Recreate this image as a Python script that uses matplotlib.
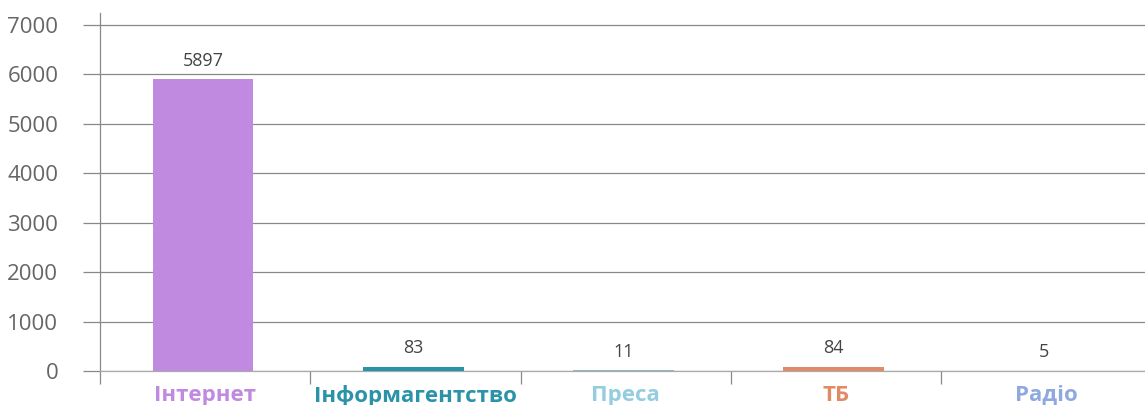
import matplotlib
matplotlib.use("Agg")
import matplotlib.pyplot as plt

categories = ["Інтернет", "Інформагентство", "Преса", "ТБ", "Радіо"]
values = [5897, 83, 11, 84, 5]
bar_colors = ["#c08ae0", "#2a93a8", "#8fb5c4", "#e08a66", "#8fa9e0"]
label_colors = ["#c08ae0", "#2a93a8", "#94cde0", "#e08a66", "#8fa9e0"]
yticks = [0, 1000, 2000, 3000, 4000, 5000, 6000, 7000]

plt.rcParams['font.family'] = ['Open Sans', 'DejaVu Sans']

fig = plt.figure(figsize=(11.45, 4.05), dpi=100)
ax = fig.add_axes([100/1145, 1 - 371/405, 1045/1145, (371 - 13)/405])

x = list(range(len(categories)))
bars = ax.bar([xi - 0.01 for xi in x], values, width=0.48, color=bar_colors, zorder=3)

ax.set_xlim(-0.5, 4.47)
ax.set_ylim(0, 7240)
ax.set_yticks(yticks)
ax.set_yticklabels([str(v) for v in yticks], fontsize=16, color="#666666")
ax.yaxis.grid(True, color="#888888", linewidth=0.9, zorder=0)
ax.tick_params(axis="y", length=12, width=0.9, color="#888888", pad=18)

ax.set_xticks([i - 0.5 for i in range(len(categories))], minor=False)
ax.set_xticklabels([])
ax.set_xticks(x, minor=True)
ax.set_xticklabels(categories, minor=True)
ax.tick_params(axis="x", which="major", length=9, width=0.9, color="#888888")
ax.tick_params(axis="x", which="minor", length=0, pad=10)
for lbl, c in zip(ax.get_xticklabels(minor=True), label_colors):
    lbl.set_color(c)
    lbl.set_fontsize(16)
    lbl.set_fontweight("bold")

for s in ["top", "right"]:
    ax.spines[s].set_visible(False)
ax.spines["left"].set_color("#888888")
ax.spines["left"].set_linewidth(0.9)
ax.spines["bottom"].set_color("#aaaaaa")
ax.spines["bottom"].set_linewidth(0.9)

for xi, v in zip(x, values):
    ax.annotate(str(v), (xi - 0.01, v), xytext=(0, 7), textcoords="offset points",
                ha="center", va="bottom", fontsize=13, color="#444444")

fig.savefig("out.png", dpi=100)
